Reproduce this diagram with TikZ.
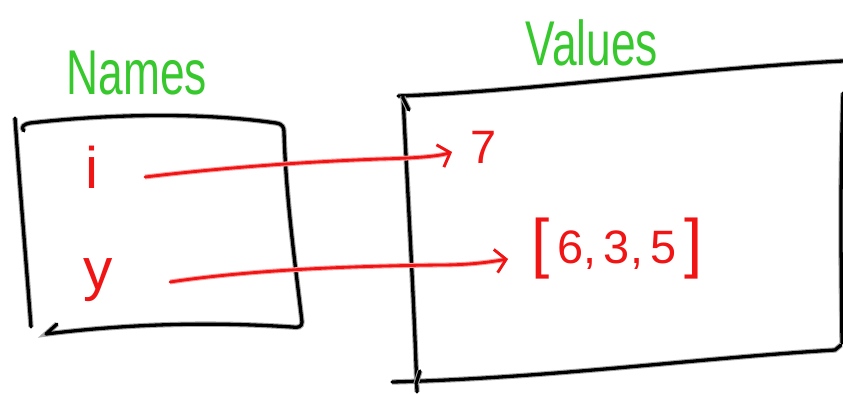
\documentclass[tikz,border=0pt]{standalone}
\usepackage{fontspec}
\usepackage{graphicx}
\setmainfont{Liberation Sans}
\usetikzlibrary{arrows.meta}
\definecolor{inkred}{RGB}{240,20,20}
\definecolor{glowred}{RGB}{255,160,160}
\definecolor{inkgreen}{RGB}{55,200,45}
\definecolor{glowgreen}{RGB}{150,230,140}
\newcommand{\bigbr}[1]{{\fontsize{56}{60}\selectfont\raisebox{-2pt}{#1}}}
\tikzset{
  boxline/.style={line width=2.8pt, line cap=round, line join=round, black,
    preaction={draw=black!35, line width=4.6pt}},
  link/.style={line width=2.4pt, inkred, line cap=round, line join=round,
    -{Straight Barb[length=9pt,width=20pt,line width=2.4pt]},
    preaction={draw=glowred, line width=4.2pt}},
  titletext/.style={inkgreen, font=\fontsize{54}{60}\selectfont, inner sep=0pt},
  nametext/.style={inkred, font=\fontsize{50}{56}\selectfont, inner sep=0pt},
  valtext/.style={inkred, font=\fontsize{40}{46}\selectfont, inner sep=0pt},
}
\begin{document}
\begin{tikzpicture}[x=0.03cm,y=-0.03cm]
\useasboundingbox (0,0) rectangle (843,393);
% titles
\node[titletext] (names) at (137,73) {\scalebox{0.7}[1]{Names}};
\node[titletext] (values) at (592,43) {\scalebox{0.7}[1]{Values}};
% left box
\draw[boxline] (15,118) .. controls (20,190) and (26,260) .. (31,327);
\draw[boxline] (24,131) .. controls (20,127) and (24,124) .. (30,123)
  .. controls (110,114) and (200,112) .. (276,123) .. controls (283,124) and (284,128) .. (284,132)
  .. controls (286,200) and (296,270) .. (302,322) .. controls (302,327) and (298,328) .. (292,327)
  .. controls (200,321) and (120,325) .. (46,334) -- (57,324);
% right box
\draw[boxline] (398,96) .. controls (520,92) and (700,68) .. (843,61);
\draw[boxline] (403,96) .. controls (408,200) and (414,300) .. (417,392);
\draw[boxline] (403,98) -- (409,110);
\draw[boxline] (392,382) .. controls (550,378) and (700,358) .. (835,350) -- (841,345);
\draw[boxline] (420,371) -- (416,384);
\draw[boxline] (843,93) .. controls (840,180) and (841,260) .. (842,343);
% names and values
\node[nametext] (i) at (92,167) {i};
\node[nametext] (y) at (98,280) {y};
\node[valtext] (seven) at (484,147) {7};
\node[valtext] (list) at (617,249) {\bigbr{[}\,6,\,3,\,5\,\bigbr{]}};
% connectors
\draw[link] ([shift={(53,10)}]i.center) .. controls (220,168) and (300,162) .. (380,159)
  .. controls (420,158) and (440,156) .. ([shift={(-32,5)}]seven.center);
\draw[link] ([shift={(72,2)}]y.center) .. controls (250,270) and (350,266) .. (440,265)
  .. controls (470,265) and (490,262) .. (508,259);
\end{tikzpicture}
\end{document}
